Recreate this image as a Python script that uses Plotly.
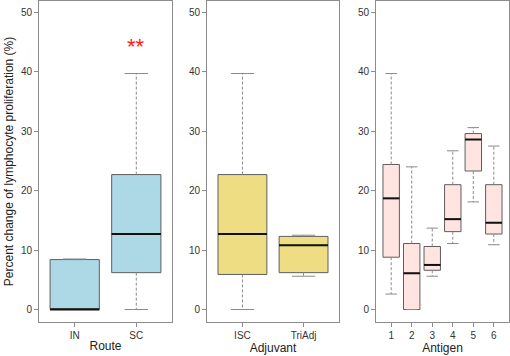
import plotly.graph_objects as go

# ---- data ----
route_cats = ["IN", "SC"]
route_low = [0.0, 0.0]
route_q1 = [0.0, 6.2]
route_med = [0.0, 12.7]
route_q3 = [8.4, 22.7]
route_high = [8.5, 39.7]

adj_cats = ["ISC", "TriAdj"]
adj_low = [0.0, 5.6]
adj_q1 = [5.9, 6.2]
adj_med = [12.7, 10.8]
adj_q3 = [22.7, 12.3]
adj_high = [39.7, 12.5]

ant_cats = ["1", "2", "3", "4", "5", "6"]
ant_low = [2.6, 0.0, 5.6, 11.1, 18.1, 10.9]
ant_q1 = [8.8, 0.0, 6.6, 13.1, 23.3, 12.7]
ant_med = [18.7, 6.1, 7.5, 15.2, 28.6, 14.6]
ant_q3 = [24.4, 11.1, 10.6, 21.0, 29.6, 21.0]
ant_high = [39.7, 24.0, 13.7, 26.7, 30.6, 27.5]

y_ticks = [0, 10, 20, 30, 40, 50]
signif_label = "**"
signif_value = 45

panels = [
    dict(cats=route_cats, low=route_low, q1=route_q1, med=route_med, q3=route_q3, high=route_high,
         fill="#ADD8E6", title="Route", cap=0.19),
    dict(cats=adj_cats, low=adj_low, q1=adj_q1, med=adj_med, q3=adj_q3, high=adj_high,
         fill="#EEDD82", title="Adjuvant", cap=0.19),
    dict(cats=ant_cats, low=ant_low, q1=ant_q1, med=ant_med, q3=ant_q3, high=ant_high,
         fill="#FFE4E1", title="Antigen", cap=0.28),
]

W, H = 510, 356
ml, mr, mt, mb = 39, 1, 1, 34
pw = W - ml - mr
px_domains = [(39, 172), (207, 339), (376, 509)]
domains = [[(a - ml) / pw, (b - ml) / pw] for a, b in px_domains]

FONT = "Liberation Sans, Arial, sans-serif"
fig = go.Figure()
box_line = "#5e5e5e"
whisk = "#8a8a8a"
frame = "#8c8c8c"
halfw = 0.4

for i, p in enumerate(panels):
    n = len(p["cats"])
    xs = list(range(1, n + 1))
    xa = "x" if i == 0 else f"x{i+1}"
    ya = "y" if i == 0 else f"y{i+1}"
    # whiskers (dashed) and caps
    for j, x in enumerate(xs):
        fig.add_trace(go.Scatter(x=[x, x, None, x, x], y=[p["q3"][j], p["high"][j], None, p["q1"][j], p["low"][j]],
                                 mode="lines", line=dict(color=whisk, width=1, dash="3px,2px"),
                                 xaxis=xa, yaxis=ya, hoverinfo="skip", showlegend=False))
        c = p["cap"]
        fig.add_trace(go.Scatter(x=[x - c, x + c, None, x - c, x + c],
                                 y=[p["high"][j], p["high"][j], None, p["low"][j], p["low"][j]],
                                 mode="lines", line=dict(color=whisk, width=1),
                                 xaxis=xa, yaxis=ya, hoverinfo="skip", showlegend=False))
    # boxes
    fig.add_trace(go.Box(x=xs, q1=p["q1"], median=p["med"], q3=p["q3"],
                         lowerfence=p["q1"], upperfence=p["q3"], width=0.8,
                         fillcolor=p["fill"], line=dict(color=box_line, width=1),
                         whiskerwidth=0, boxpoints=False, xaxis=xa, yaxis=ya,
                         hoverinfo="skip", showlegend=False))
    # medians
    mx, my = [], []
    for j, x in enumerate(xs):
        mx += [x - halfw, x + halfw, None]
        my += [p["med"][j], p["med"][j], None]
    fig.add_trace(go.Scatter(x=mx, y=my, mode="lines", line=dict(color="#111111", width=2),
                             xaxis=xa, yaxis=ya, hoverinfo="skip", showlegend=False))

    ext = n * 0.04
    axis_common = dict(showline=True, linecolor=frame, linewidth=1, mirror=True,
                       ticks="outside", ticklen=4, tickcolor=frame, showgrid=False, zeroline=False,
                       tickfont=dict(family=FONT, size=10, color="#333333"))
    fig.update_layout(**{
        ("xaxis" if i == 0 else f"xaxis{i+1}"): dict(
            domain=domains[i], anchor=ya, range=[0.5 - ext, n + 0.5 + ext],
            tickvals=xs, ticktext=p["cats"],
            title=dict(text=p["title"], standoff=1, font=dict(family=FONT, size=12, color="#222222")),
            **axis_common),
        ("yaxis" if i == 0 else f"yaxis{i+1}"): dict(
            domain=[0, 1], anchor=xa, range=[-2.1, 51.9], tickvals=y_ticks,
            ticktext=[str(v) for v in y_ticks], **axis_common),
    })

fig.update_layout(yaxis_title=dict(text="Percent change of lymphocyte proliferation (%)", standoff=4,
                                   font=dict(family=FONT, size=12, color="#222222")))

fig.add_annotation(x=2, y=signif_value, xref="x", yref="y", text=signif_label, showarrow=False,
                   font=dict(family=FONT, size=22, color="#ff1a1a"), yshift=-4)

fig.update_layout(width=W, height=H, margin=dict(l=ml, r=mr, t=mt, b=mb),
                  paper_bgcolor="white", plot_bgcolor="white")

fig.write_html("out.html", config={"displayModeBar": False},
               post_script="document.body.style.margin='0px';")
